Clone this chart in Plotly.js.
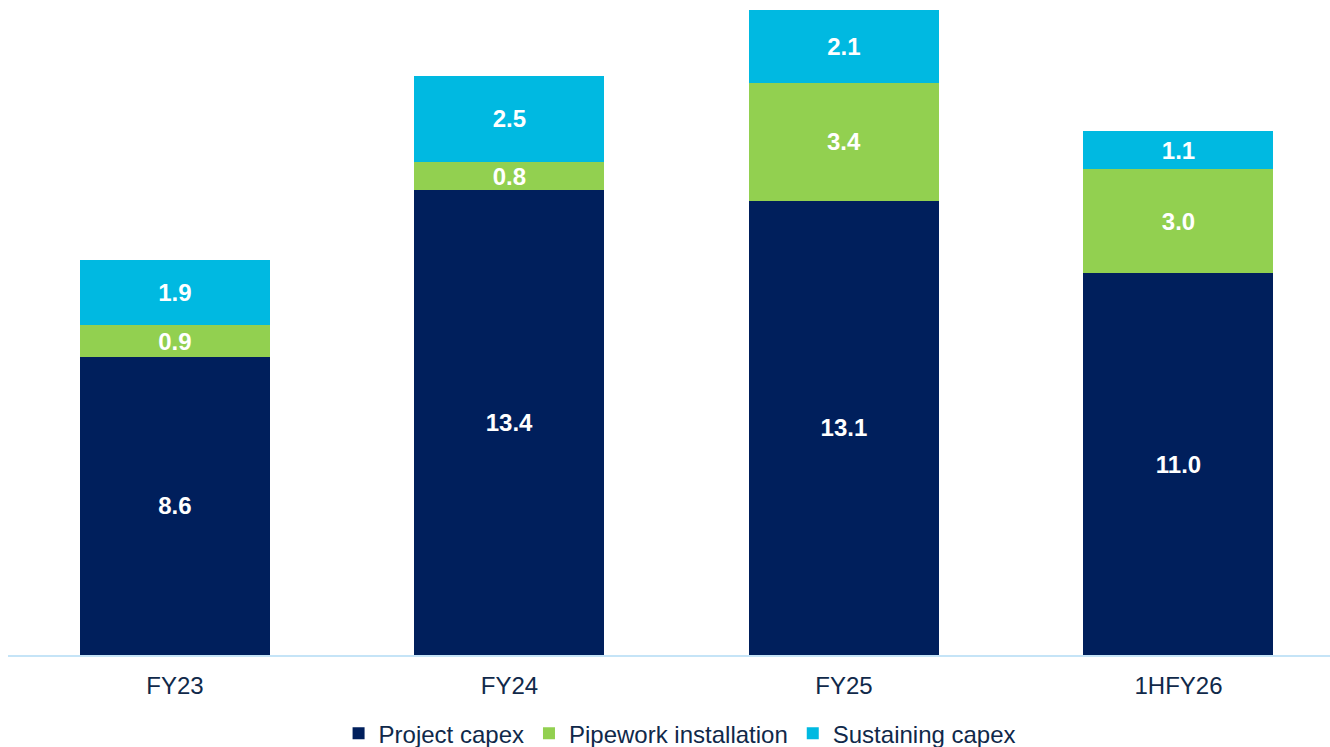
<!DOCTYPE html>
<html>
<head>
<meta charset="utf-8">
<script src="https://cdn.plot.ly/plotly-3.0.1.min.js"></script>
<style>html,body{margin:0;padding:0;background:#fff;}#chart{width:1330px;height:747px;}</style>
</head>
<body>
<div id="chart"></div>
<script>
const categories = ["FY23", "FY24", "FY25", "1HFY26"];
const projectCapex = [8.6, 13.4, 13.1, 11.0];
const pipeworkInstallation = [0.9, 0.8, 3.4, 3.0];
const sustainingCapex = [1.9, 2.5, 2.1, 1.1];
const seriesNames = ["Project capex", "Pipework installation", "Sustaining capex"];
const seriesColors = ["#001F5C", "#92D050", "#00B9E1"];
const seriesValues = [projectCapex, pipeworkInstallation, sustainingCapex];

const traces = seriesValues.map((vals, i) => ({
  type: "bar",
  name: seriesNames[i],
  x: categories,
  y: vals,
  marker: {color: seriesColors[i], line: {width: 0}},
  texttemplate: "%{y:.1f}",
  textposition: "inside",
  insidetextanchor: "middle",
  constraintext: "none",
  textangle: 0,
  textfont: {color: "#FFFFFF", size: 24, family: "Liberation Sans, Arial, sans-serif", weight: "bold"},
  hoverinfo: "skip"
}));

const layout = {
  width: 1330, height: 747,
  margin: {l: 8, r: 0, t: 0, b: 92, autoexpand: false},
  barmode: "stack",
  bargap: 0.432,
  paper_bgcolor: "#FFFFFF",
  plot_bgcolor: "#FFFFFF",
  font: {family: "Liberation Sans, Arial, sans-serif", color: "#10294A"},
  xaxis: {
    type: "category",
    range: [-0.499, 3.453],
    showgrid: false,
    showline: true,
    linecolor: "#C5E4F7",
    linewidth: 2,
    ticks: "",
    tickfont: {size: 24, color: "#10294A"},
    ticklabelstandoff: 8,
    automargin: false,
    fixedrange: true
  },
  yaxis: {
    range: [0, 18.88],
    visible: false,
    showgrid: false,
    zeroline: false,
    fixedrange: true
  },
  showlegend: true,
  legend: {
    orientation: "h",
    x: 0.508, xanchor: "center",
    y: -0.12, yanchor: "middle",
    font: {size: 24, color: "#10294A"},
    traceorder: "normal",
    itemwidth: 30,
    bgcolor: "rgba(0,0,0,0)"
  }
};

Plotly.newPlot("chart", traces, layout, {displayModeBar: false, staticPlot: true});
</script>
</body>
</html>
